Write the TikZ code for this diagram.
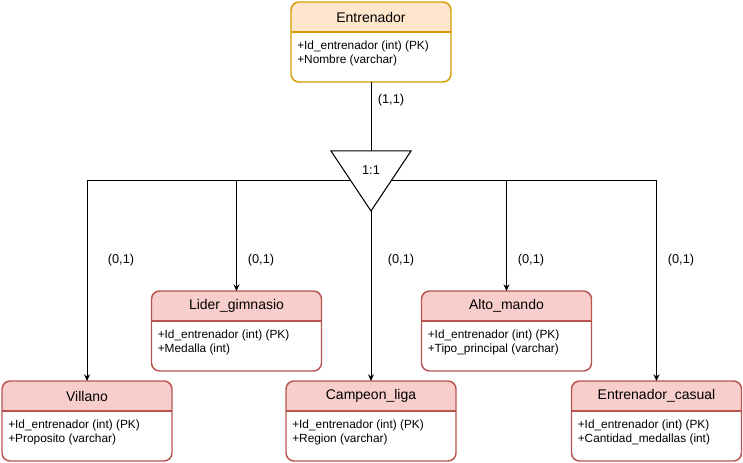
\documentclass[tikz,border=0pt]{standalone}
\usepackage{fontspec}
\setmainfont{Liberation Sans}
\usetikzlibrary{arrows.meta,calc}
\definecolor{ofill}{HTML}{FFE6CC}
\definecolor{ostroke}{HTML}{D79B00}
\definecolor{rfill}{HTML}{F8CECC}
\definecolor{rstroke}{HTML}{B85450}
\tikzset{
  entbox/.style={rectangle, inner sep=0pt, outer sep=0pt, minimum height=60pt, fill=white},
  titletext/.style={font=\fontsize{10.5}{12}\selectfont, inner sep=0pt},
  attrtext/.style={font=\fontsize{8.9}{10.5}\selectfont, align=left, anchor=north west, inner sep=0pt},
  conn/.style={line width=0.75pt, draw=black},
  arr/.style={conn, -{Stealth[length=5pt,width=4.5pt]}},
  lbl/.style={font=\fontsize{9.6}{11}\selectfont, inner sep=0pt},
}
% #1 name, #2 center x, #3 top y, #4 width, #5 fill, #6 stroke, #7 title, #8 attributes
\newcommand\erentity[8]{%
  \node[entbox, minimum width={#4*0.75pt}, anchor=north] (#1) at (#2,#3) {};
  \begin{scope}
    \clip[rounded corners=6pt] (#1.north west) rectangle (#1.south east);
    \fill[#5] (#1.north west) rectangle ([yshift=-22.5pt]#1.north east);
  \end{scope}
  \draw[#6, line width=1.1pt, rounded corners=6pt] (#1.north west) rectangle (#1.south east);
  \draw[#6, line width=1.1pt] ([yshift=-22.5pt]#1.north west) -- ([yshift=-22.5pt]#1.north east);
  \node[titletext] (#1-title) at ([yshift=-11.25pt]#1.north) {#7};
  \node[attrtext] (#1-attrs) at ([xshift=4.5pt,yshift=-29.2pt]#1.north west) {#8};
}
\begin{document}
\begin{tikzpicture}[x=0.75pt,y=-0.75pt]
\useasboundingbox (0,0) rectangle (743,463);

\erentity{ent}{371}{2}{160}{ofill}{ostroke}{Entrenador}{+Id\_entrenador (int) (PK)\\+Nombre (varchar)}
\erentity{vil}{87}{381}{170}{rfill}{rstroke}{Villano}{+Id\_entrenador (int) (PK)\\+Proposito (varchar)}
\erentity{lid}{236.5}{291}{170}{rfill}{rstroke}{Lider\_gimnasio}{+Id\_entrenador (int) (PK)\\+Medalla (int)}
\erentity{camp}{371}{381}{170}{rfill}{rstroke}{Campeon\_liga}{+Id\_entrenador (int) (PK)\\+Region (varchar)}
\erentity{alto}{506.5}{291}{170}{rfill}{rstroke}{Alto\_mando}{+Id\_entrenador (int) (PK)\\+Tipo\_principal (varchar)}
\erentity{cas}{656.5}{381}{170}{rfill}{rstroke}{Entrenador\_casual}{+Id\_entrenador (int) (PK)\\+Cantidad\_medallas (int)}

% relationship triangle
\node[rectangle, inner sep=0pt, outer sep=0pt, minimum width=60pt, minimum height=45pt] (tri) at (371,181) {};
\draw[line width=0.75pt, fill=white] (tri.north west) -- (tri.north east) -- (tri.south) -- cycle;
\node[lbl] (trilbl) at (371,170) {1:1};
\coordinate (triL) at ($(tri.north west)!0.5!(tri.south)$);
\coordinate (triR) at ($(tri.north east)!0.5!(tri.south)$);

\draw[conn] (ent.south) -- (tri.north);
\draw[arr] (tri.south) -- (camp.north);
\draw[arr] (triL) -| (vil.north);
\draw[arr] (triL) -| (lid.north);
\draw[arr] (triR) -| (alto.north);
\draw[arr] (triR) -| (cas.north);

\node[lbl] (l11) at (391,100) {(1,1)};
\node[lbl] (lv) at (121,260) {(0,1)};
\node[lbl] (ll) at (261,260) {(0,1)};
\node[lbl] (lc) at (401,260) {(0,1)};
\node[lbl] (la) at (531,260) {(0,1)};
\node[lbl] (lcas) at (681,260) {(0,1)};
\end{tikzpicture}
\end{document}
